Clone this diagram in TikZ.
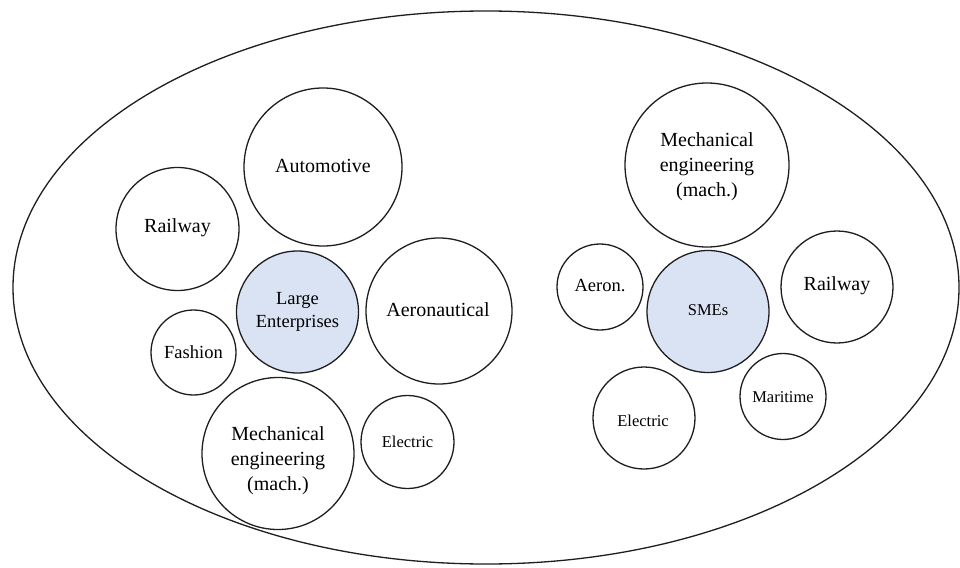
\documentclass[tikz,border=0pt]{standalone}
\usepackage{fontspec}
\setmainfont{Liberation Serif}
\newfontfamily\tnr{Liberation Serif}
\usetikzlibrary{shapes.geometric}
\definecolor{lightblue}{RGB}{218,227,243}
\definecolor{edge}{RGB}{30,30,30}
\tikzset{
  bubble/.style={circle, draw=edge, line width=1.3pt, fill=white, inner sep=0pt, minimum size=#1},
  core/.style={bubble=#1, fill=lightblue},
  lbl/.style={align=center, inner sep=0pt, font=\tnr\fontsize{20}{25}\selectfont},
  lblm/.style={align=center, inner sep=0pt, font=\tnr\fontsize{18.5}{23}\selectfont},
  lbls/.style={align=center, inner sep=0pt, font=\tnr\fontsize{16.5}{20}\selectfont},
}
\begin{document}
\begin{tikzpicture}[x=1pt,y=-1pt]
\useasboundingbox (0,0) rectangle (960,567);
\fill[white] (0,0) rectangle (960,567);
\node[ellipse, draw=edge, line width=1.3pt, minimum width=946pt, minimum height=553pt, inner sep=0pt] (outer) at (486,287.5) {};
% Large enterprises cluster
\node[bubble=158pt] (auto) at (323,167) {};
\node[lbl] (autot) at (323,166) {Automotive};
\node[bubble=123pt] (railL) at (177.5,229) {};
\node[lbl] (railLt) at (177.5,228) {Railway};
\node[core=122pt] (le) at (297.5,312) {};
\node[lblm] (let) at (297.5,311.5) {Large\\Enterprises};
\node[bubble=146pt] (aero) at (439,311) {};
\node[lbl] (aerot) at (438,310) {Aeronautical};
\node[bubble=85pt] (fash) at (193.5,352.5) {};
\node[lblm] (fasht) at (193.5,352) {Fashion};
\node[bubble=152pt] (mechL) at (278,453.5) {};
\node[lbl] (mechLt) at (278,461) {Mechanical\\engineering\\(mach.)};
\node[bubble=93pt] (elecL) at (407.5,442) {};
\node[lbls] (elecLt) at (407.5,442) {Electric};
% SMEs cluster
\node[bubble=164pt] (mechR) at (707,165) {};
\node[lbl] (mechRt) at (707,167) {Mechanical\\engineering\\(mach.)};
\node[bubble=86pt] (aeron) at (600,287) {};
\node[lblm] (aeront) at (600,286) {Aeron.};
\node[core=122pt] (sme) at (708,311.5) {};
\node[lbls] (smet) at (708,310) {SMEs};
\node[bubble=112pt] (railR) at (837,287) {};
\node[lbl] (railRt) at (837,286) {Railway};
\node[bubble=86pt] (mari) at (783,396.5) {};
\node[lbls] (marit) at (783,397) {Maritime};
\node[bubble=102pt] (elecR) at (644,418) {};
\node[lbls] (elecRt) at (643,421) {Electric};
\end{tikzpicture}
\end{document}
